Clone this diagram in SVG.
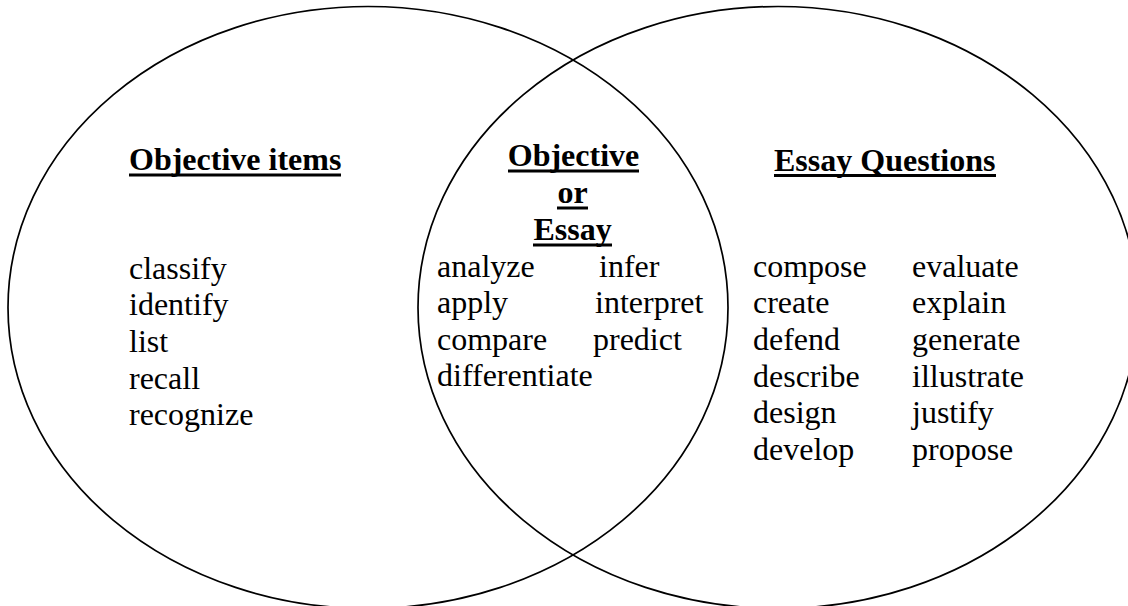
<svg xmlns="http://www.w3.org/2000/svg" width="1128" height="606" viewBox="0 0 1128 606">
<style>
.c{fill:none;stroke:#000;stroke-width:1.7}
.t{font-family:"Liberation Serif","Times New Roman",serif;font-size:32px;fill:#000}
.h{font-family:"Liberation Serif","Times New Roman",serif;font-size:32px;font-weight:bold;fill:#000}
.u{stroke:#000;stroke-width:3}
</style>
<rect width="1128" height="606" fill="#fff"/>
<g id="circles">
<ellipse id="left-circle" class="c" cx="368" cy="307.5" rx="360" ry="301"/>
<ellipse id="right-circle" class="c" cx="778" cy="307.5" rx="360" ry="301"/>
</g>
<g id="objective-items">
<text class="h" x="129" y="170">Objective items</text>
<line class="u" x1="129" y1="175" x2="341" y2="175"/>
<text class="t" x="129" y="278.5">classify</text>
<text class="t" x="129" y="315">identify</text>
<text class="t" x="129" y="352">list</text>
<text class="t" x="129" y="388.5">recall</text>
<text class="t" x="129" y="425">recognize</text>
</g>
<g id="objective-or-essay">
<text class="h" x="573.5" y="166" text-anchor="middle">Objective</text>
<line class="u" x1="508" y1="171" x2="639" y2="171"/>
<text class="h" x="572.5" y="203" text-anchor="middle">or</text>
<line class="u" x1="557" y1="208" x2="588" y2="208"/>
<text class="h" x="572.5" y="240" text-anchor="middle">Essay</text>
<line class="u" x1="533" y1="245" x2="612" y2="245"/>
<text class="t" x="437" y="276.5">analyze</text>
<text class="t" x="437" y="313">apply</text>
<text class="t" x="437" y="349.5">compare</text>
<text class="t" x="437" y="386">differentiate</text>
<text class="t" x="599" y="276.5">infer</text>
<text class="t" x="595" y="313">interpret</text>
<text class="t" x="593" y="349.5">predict</text>
</g>
<g id="essay-questions">
<text class="h" x="774" y="171">Essay Questions</text>
<line class="u" x1="774" y1="175.5" x2="996" y2="175.5"/>
<text class="t" x="753" y="276.5">compose</text>
<text class="t" x="753" y="313">create</text>
<text class="t" x="753" y="350">defend</text>
<text class="t" x="753" y="386.5">describe</text>
<text class="t" x="753" y="423">design</text>
<text class="t" x="753" y="460">develop</text>
<text class="t" x="912" y="276.5">evaluate</text>
<text class="t" x="912" y="313">explain</text>
<text class="t" x="912" y="350">generate</text>
<text class="t" x="912" y="386.5">illustrate</text>
<text class="t" x="912" y="423">justify</text>
<text class="t" x="912" y="460">propose</text>
</g>
</svg>
